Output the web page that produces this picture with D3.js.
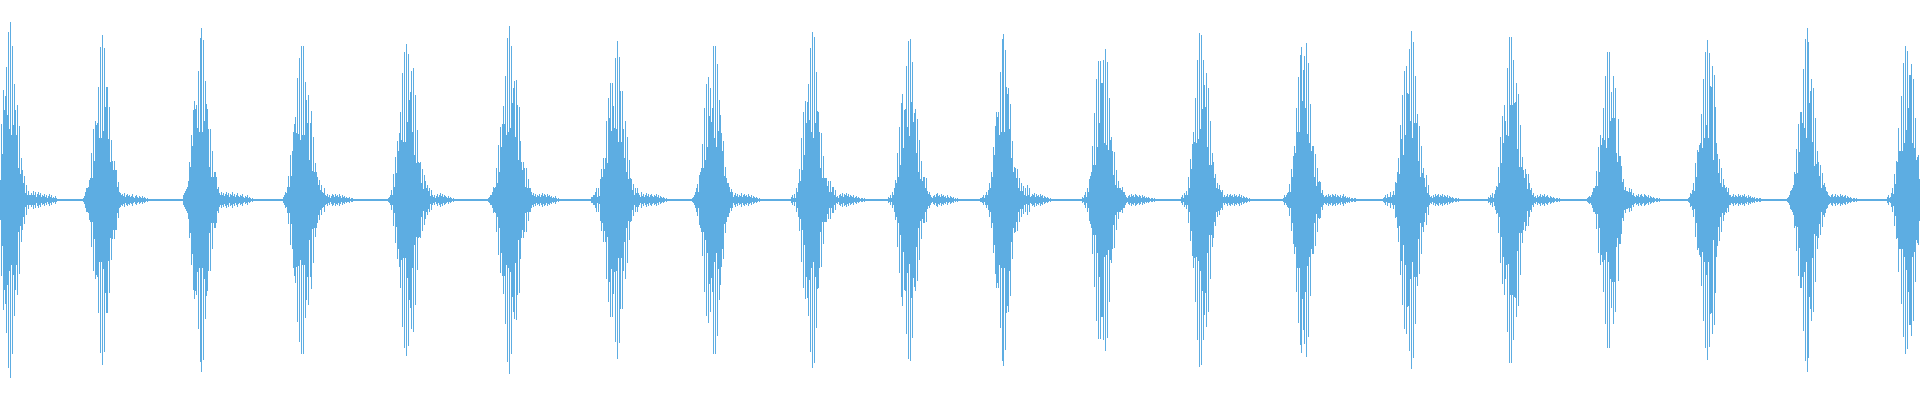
<!DOCTYPE html>
<html>
<head>
<meta charset="utf-8">
<script src="https://cdn.jsdelivr.net/npm/d3@7"></script>
<style>
  html, body { margin: 0; padding: 0; background: #fff; }
  svg { display: block; }
</style>
</head>
<body>
<div id="wave"></div>
<script>
// waveform peaks, one value per sample column (amplitude, symmetric around 0)
var sampleCount = 1920;
var quietLevel = 1;

// first sample index of each burst
var burstStart = [0, 83, 183, 283, 388, 488, 591, 692, 791, 888, 980, 1082, 1181, 1283, 1383, 1488, 1587, 1688, 1787, 1887];

// burst bodies
var b01 = [20,76,46,110,90,104,133,85,168,71,178,65,154,75,116,90,65,95,32,74,26,42,30,17,24,7,15,5,9,5,5,7,5,9,5,8,3,6,8,5,7,3,5,4,6,3,5,2,4,6,3,5,2,3,2,4,2];
var b02 = [2,4,8,12,12,13,20,22,47,22,71,39,79,75,77,113,62,153,62,165,69,152,93,113,113,61,93,38,60,39,30,39,30,30,13,18,8,7,5,6,4,7,3,5,6,4,5,3,4,6,3,2,4,5,3,2,4,3,2,4,2,3,2,1,2];
var b03 = [5,7,9,11,13,19,38,33,65,54,90,99,91,95,72,129,68,162,172,68,160,79,119,96,91,71,33,71,23,49,23,28,28,23,11,13,7,5,8,5,7,4,6,8,5,7,3,6,5,8,4,6,3,5,7,4,3,5,4,6,3,2,4,3,5,2,3,2,1,2];
var b04 = [3,5,8,7,13,24,13,45,24,49,68,76,83,67,122,66,142,60,154,65,154,65,118,100,77,105,40,77,89,29,63,28,37,28,23,15,20,10,15,8,7,12,5,4,6,3,5,2,4,6,5,3,6,4,5,3,6,4,2,5,3,4,2,3,2,2,3,1,2,2];
var b05 = [2,3,5,10,5,26,13,43,27,59,49,67,88,60,127,58,148,58,156,78,146,100,108,129,68,132,45,105,37,70,38,37,38,17,31,11,25,19,12,15,9,12,4,10,5,3,5,2,4,6,3,5,7,4,6,3,5,4,3,2,4,2,3,2,1,2];
var b06 = [2,3,5,5,8,13,12,13,32,17,55,28,73,53,76,94,76,124,65,162,68,174,72,154,97,112,119,63,120,95,40,93,59,38,30,38,32,13,32,12,21,12,12,8,5,7,4,6,3,5,4,6,3,5,7,4,6,5,3,6,4,5,3,4,2,3,2,4,2,1,2];
var b07 = [3,3,5,5,8,12,3,12,4,21,31,23,42,31,42,79,37,102,82,117,69,117,94,72,142,71,159,58,143,109,58,109,71,42,79,28,63,21,40,22,21,10,16,5,12,7,12,7,5,3,8,4,6,3,5,7,4,6,3,5,6,4,3,5,4,6,3,5,2,4,3,2,3,2,1,2];
var b08 = [2,3,5,8,12,16,8,25,28,32,56,32,92,40,116,53,123,84,112,78,92,154,62,154,53,136,69,100,85,67,49,59,24,33,22,17,17,13,8,11,8,3,5,7,4,6,3,5,4,7,3,5,6,4,5,3,6,4,3,5,2,4,3,2,3,2,1,2];
var b09 = [3,5,2,6,2,12,8,17,31,19,62,30,88,45,99,77,98,116,80,152,68,168,62,163,77,128,89,88,68,32,67,22,44,22,22,22,14,19,8,19,8,13,13,5,10,3,4,2,5,6,4,7,3,6,5,7,4,6,3,5,4,3,5,2,3,4,2,3,2,1,2,2,1,2];
var b10 = [3,2,5,2,8,5,12,20,17,47,23,73,35,97,106,52,90,91,134,73,159,64,161,98,138,78,87,91,47,81,28,60,21,39,19,23,23,12,22,9,6,8,5,3,2,4,5,3,6,7,4,5,3,6,4,5,3,4,2,5,3,2,4,3,2,3,1,2,1,2];
var b11 = [2,2,3,5,2,5,8,5,10,17,12,28,23,53,45,74,88,83,88,65,128,68,161,166,68,150,113,106,112,71,96,42,59,28,33,32,22,31,12,22,9,17,9,14,5,12,4,15,5,12,3,4,6,5,7,3,6,4,5,3,6,4,5,2,4,3,2,3,2,1,2];
var b12 = [3,2,5,8,3,12,8,21,24,28,54,35,87,35,121,53,139,77,139,117,117,140,57,151,55,138,50,102,60,63,49,25,48,15,30,12,19,12,12,10,13,8,8,5,3,2,4,5,3,6,4,5,3,6,5,4,3,5,4,2,5,3,4,2,3,2,3,2,1,2,2,1,2];
var b13 = [3,5,2,7,5,9,5,23,12,41,31,56,68,58,102,57,140,61,167,71,165,91,140,115,93,127,53,112,35,79,35,47,38,22,26,12,17,11,15,10,8,10,3,5,3,4,6,3,5,6,4,5,3,6,4,5,3,4,6,3,5,2,4,3,2,3,2,1,2];
var b14 = [2,5,3,5,7,8,16,8,31,23,44,54,47,92,68,123,68,145,153,99,130,144,92,157,66,137,57,96,49,54,54,23,46,14,32,18,19,18,7,10,5,3,4,5,3,6,4,5,3,6,5,4,6,3,5,4,3,5,2,4,6,3,4,2,3,2,3,1,2,2,1,2,2,1];
var b15 = [2,3,5,2,6,3,3,8,3,5,9,5,18,17,28,42,26,75,61,105,45,129,65,134,107,106,151,79,169,62,158,77,124,77,86,39,74,23,54,27,32,22,13,25,7,15,5,3,4,2,5,3,6,4,5,6,3,5,4,6,3,5,4,3,5,2,4,3,2,3,2,1,2,2,1,2];
var b16 = [3,2,5,3,7,2,6,10,14,13,33,17,63,37,84,57,95,79,65,132,64,163,95,163,95,140,97,98,117,51,106,33,75,33,43,30,22,31,26,11,26,17,10,12,5,7,3,4,2,5,3,4,6,3,5,4,6,3,4,5,3,2,4,3,2,3,2,1,2,2,1,2];
var b17 = [2,3,4,3,5,8,12,12,14,29,14,53,28,65,55,62,92,60,124,52,148,62,148,79,108,82,124,82,112,47,38,81,44,44,34,18,21,10,13,9,9,8,12,8,11,5,7,4,3,5,4,6,3,5,6,4,3,6,5,4,3,5,2,4,3,2,3,2,1,2,2,1,2];
var b18 = [2,3,7,6,10,17,9,37,23,50,48,55,57,86,52,121,62,148,75,160,62,147,114,113,134,40,125,93,57,46,27,41,17,32,13,21,15,12,13,8,12,5,5,3,4,6,3,5,4,3,6,4,5,3,5,4,6,3,4,2,5,3,4,2,3,2,3,1,2,2,1,2,2,1];
var b19 = [2,3,5,9,10,12,15,28,26,51,27,76,48,88,88,77,131,72,161,62,172,158,97,109,121,58,112,34,82,36,49,38,24,35,12,27,15,17,13,9,8,5,4,3,5,6,3,4,6,3,5,4,3,6,4,5,3,4,5,2,4,3,2,3,2,1,2,2,1,2];
var b20 = [3,5,2,3,7,12,6,26,16,39,38,72,49,49,104,49,137,57,154,70,149,92,125,125,136,57,121,52,82,40,43,45,21,21];

var bursts = [b01, b02, b03, b04, b05, b06, b07, b08, b09, b10, b11, b12, b13, b14, b15, b16, b17, b18, b19, b20];

var width = 1920, height = 400;

// place each burst at its start, quiet baseline everywhere else
var peaks = [];
for (var i = 0; i < sampleCount; i++) peaks.push(quietLevel);
bursts.forEach(function(b, k) {
    b.forEach(function(v, j) {
        var idx = burstStart[k] + j;
        if (idx < sampleCount) peaks[idx] = v;
    });
});

var x = d3.scaleLinear()
    .domain([0, sampleCount])
    .range([0, width]);

var y = d3.scaleLinear()
    .domain([-200, 200])
    .range([height, 0]);

var svg = d3.select("#wave")
    .append("svg")
    .attr("width", width)
    .attr("height", height);

svg.append("rect")
    .attr("width", width)
    .attr("height", height)
    .attr("fill", "#ffffff");

svg.append("g")
    .attr("fill", "#5dade2")
    .selectAll("rect")
    .data(peaks)
    .enter()
    .append("rect")
    .attr("x", function(d, i) { return x(i); })
    .attr("width", function(d, i) { return x(i + 1) - x(i); })
    .attr("y", function(d) { return y(d); })
    .attr("height", function(d) { return y(-d) - y(d); });
</script>
</body>
</html>
